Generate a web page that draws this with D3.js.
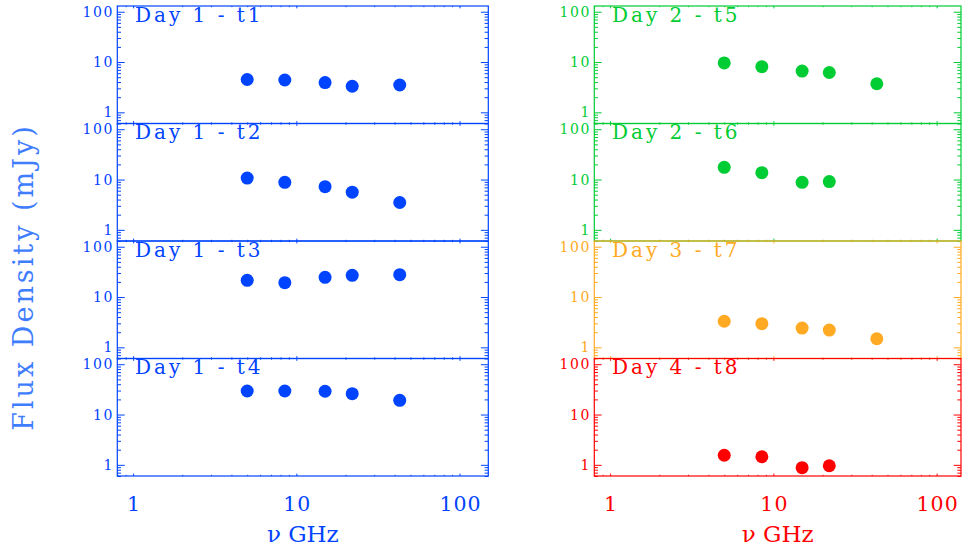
<!DOCTYPE html>
<html>
<head>
<meta charset="utf-8">
<script src="https://cdn.jsdelivr.net/npm/d3@7"></script>
<style>
  body { margin: 0; background: white; }
</style>
</head>
<body>
<div id="my_dataviz"></div>
<script>
    // frequencies (GHz) and flux densities (mJy) per epoch
    var freqGHz = [5, 8.5, 15, 22, 43];
    var fluxT1 = [4.5, 4.4, 3.9, 3.3, 3.5];
    var fluxT2 = [10.7, 8.8, 7.2, 5.6, 3.5];
    var fluxT3 = [21.5, 19.3, 24.7, 27, 27.8];
    var fluxT4 = [29.4, 29.4, 29, 26, 19.2];
    var fluxT5 = [9.6, 8.1, 6.6, 6.2, 3.7];
    var fluxT6 = [17.5, 13.7, 8.8, 9.1];
    var fluxT7 = [3.3, 2.95, 2.42, 2.2, 1.48];
    var fluxT8 = [1.55, 1.45, 0.88, 0.96];

    var panelLabels = ["Day 1 - t1", "Day 1 - t2", "Day 1 - t3", "Day 1 - t4",
                       "Day 2 - t5", "Day 2 - t6", "Day 3 - t7", "Day 4 - t8"];
    var panelFlux = [fluxT1, fluxT2, fluxT3, fluxT4, fluxT5, fluxT6, fluxT7, fluxT8];

    var yTicks = [1, 10, 100];
    var xTicks = [1, 10, 100];
    var yRange = [0.6, 130];

    //Color Palette
    var blueColor = "#0044ff";
    var greenColor = "#00cc33";
    var orangeColor = "#ffaa22";
    var redColor = "#ff0000";
    var labelBlue = "#3f7dff";
    var panelColors = [blueColor, blueColor, blueColor, blueColor,
                       greenColor, greenColor, orangeColor, redColor];

    var font = "'DejaVu Serif', serif";

    // layout
    const width = 962, height = 549;
    const plotTop = 6, panelH = 117.5;
    const columns = [
      { left: 117.3, right: 488.3, domain: [0.8, 150] },
      { left: 594.3, right: 961, domain: [0.8, 141] }
    ];

    const svg = d3.select("#my_dataviz")
      .append("svg")
      .attr("width", width)
      .attr("height", height);

    // minor tick values for log axes
    function minorTicks(lo, hi) {
      var out = [];
      for (var p = -1; p <= 2; p++) {
        for (var m = 2; m <= 9; m++) {
          var v = m * Math.pow(10, p);
          if (v >= lo && v <= hi) out.push(v);
        }
      }
      return out;
    }
    var yMinor = minorTicks(yRange[0], yRange[1]);

    panelFlux.forEach(function (flux, i) {
      var col = columns[Math.floor(i / 4)];
      var row = i % 4;
      var color = panelColors[i];
      var top = plotTop + row * panelH;
      var bottom = top + panelH;

      var x = d3.scaleLog().domain(col.domain).range([col.left, col.right]);
      var y = d3.scaleLog().domain(yRange).range([bottom, top]);
      var xMinor = minorTicks(col.domain[0], col.domain[1]);
      var xLen = 0.02 * panelH, yLen = 0.02 * (col.right - col.left);

      var g = svg.append("g");

      // frame
      g.append("rect")
        .attr("x", col.left).attr("y", top)
        .attr("width", col.right - col.left).attr("height", panelH)
        .attr("fill", "none")
        .attr("stroke", color)
        .attr("stroke-width", 1.2);

      function addAxis(axis, tx, ty) {
        var a = g.append("g")
          .attr("transform", `translate(${tx},${ty})`)
          .call(axis);
        a.select(".domain").remove();
        a.selectAll("line").attr("stroke", color).attr("stroke-width", 1);
        return a;
      }

      // y axes (left with labels, right inward ticks)
      var yl = addAxis(d3.axisLeft(y).tickValues(yTicks).tickSize(-yLen).tickPadding(5)
        .tickFormat(d3.format("d")), col.left, 0);
      yl.selectAll("text")
        .attr("fill", color)
        .attr("dx", 1.5)
        .style("font-family", font)
        .style("font-size", "14px")
        .style("letter-spacing", "1.5px");
      addAxis(d3.axisLeft(y).tickValues(yMinor).tickSize(-yLen / 2).tickFormat(""), col.left, 0);
      addAxis(d3.axisRight(y).tickValues(yTicks).tickSize(-yLen).tickFormat(""), col.right, 0);
      addAxis(d3.axisRight(y).tickValues(yMinor).tickSize(-yLen / 2).tickFormat(""), col.right, 0);

      // x axes
      addAxis(d3.axisTop(x).tickValues(xTicks).tickSize(-xLen).tickFormat(""), 0, top);
      addAxis(d3.axisTop(x).tickValues(xMinor).tickSize(-xLen / 2).tickFormat(""), 0, top);
      var xb = addAxis(d3.axisBottom(x).tickValues(xTicks).tickSize(-xLen).tickPadding(20)
        .tickFormat(row === 3 ? d3.format("d") : ""), 0, bottom);
      addAxis(d3.axisBottom(x).tickValues(xMinor).tickSize(-xLen / 2).tickFormat(""), 0, bottom);
      xb.selectAll("text")
        .attr("fill", color)
        .attr("dx", 0.5)
        .style("font-family", font)
        .style("font-size", "20.5px")
        .style("letter-spacing", "1px");

      // panel label
      g.append("text")
        .attr("x", col.left + 17.7)
        .attr("y", top + 15.5)
        .attr("fill", color)
        .style("font-family", font)
        .style("font-size", "20px")
        .style("letter-spacing", "3px")
        .text(panelLabels[i]);

      // points
      g.selectAll("circle")
        .data(flux)
        .enter()
        .append("circle")
        .attr("cx", function (d, j) { return x(freqGHz[j]); })
        .attr("cy", function (d) { return y(d); })
        .attr("r", 6.5)
        .attr("fill", color);

      // x title under bottom panel
      if (row === 3) {
        g.append("text")
          .attr("x", (col.left + col.right) / 2)
          .attr("y", 541.5)
          .attr("text-anchor", "middle")
          .attr("fill", color)
          .style("font-family", font)
          .style("font-size", "23px")
          .text("\u03bd GHz");
      }
    });

    // Y axis title
    svg.append("text")
      .attr("transform", "translate(33,277) rotate(-90)")
      .attr("text-anchor", "middle")
      .attr("fill", labelBlue)
      .style("font-family", font)
      .style("font-size", "27px")
      .style("letter-spacing", "3px")
      .text("Flux Density (mJy)");
</script>
</body>
</html>
